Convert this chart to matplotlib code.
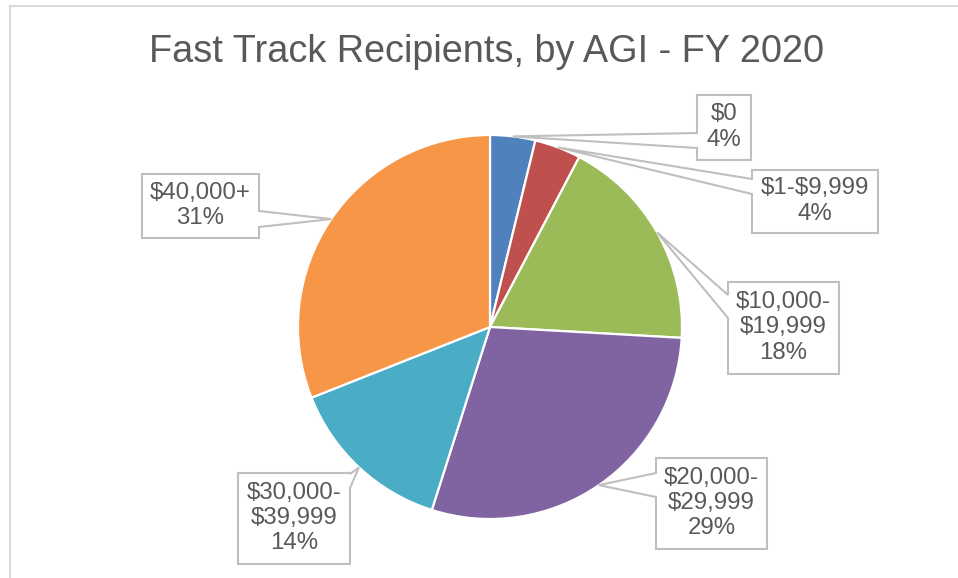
import numpy as np
import matplotlib
matplotlib.use("Agg")
import matplotlib.pyplot as plt
from matplotlib.patches import Polygon
from matplotlib.lines import Line2D

plt.rcParams['font.family'] = ['Liberation Sans', 'DejaVu Sans']

# Data
categories = ["$0", "$1-$9,999", "$10,000-\n$19,999", "$20,000-\n$29,999",
              "$30,000-\n$39,999", "$40,000+"]
shares = [3.8, 3.9, 18.2, 29.0, 14.1, 31.0]
pct_labels = ["4%", "4%", "18%", "29%", "14%", "31%"]
colors = ["#4F81BD", "#C0504D", "#9BBB59", "#8064A2", "#4BACC6", "#F79646"]

W, H = 958, 578
TXT = "#595959"
EDGE = "#BFBFBF"

fig = plt.figure(figsize=(W / 100, H / 100), dpi=100)
ax = fig.add_axes([0, 0, 1, 1])

# pie in pixel coordinates (y measured from the bottom)
cx, cy, r = 490, H - 327, 192
wedges, _ = ax.pie(shares, colors=colors, startangle=90, counterclock=False,
                   center=(cx, cy), radius=r,
                   wedgeprops=dict(edgecolor="white", linewidth=1.6))
ax.set_xlim(0, W)
ax.set_ylim(0, H)
ax.set_aspect("auto")
ax.axis("off")

# callout boxes: (x0, y0, x1, y1) in top-down pixels, side of pointer, pointer base
boxes = [
    ((697, 95, 751, 160), "left", (133, 148)),
    ((752, 170, 878, 233), "left", (179, 194)),
    ((728, 282, 839, 374), "left", (295, 318)),
    ((656, 458, 767, 549), "left", (473, 497)),
    ((238, 473, 350, 564), "right", (474, 488)),
    ((142, 174, 259, 238), "right", (211, 227)),
]

for w, cat, pct, (box, side, base) in zip(wedges, categories, pct_labels, boxes):
    mid = np.deg2rad((w.theta1 + w.theta2) / 2)
    tip = (cx + r * np.cos(mid), cy + r * np.sin(mid))
    x0, y0, x1, y1 = box
    Y0, Y1 = H - y0, H - y1
    b1, b2 = H - base[0], H - base[1]
    if side == "left":
        verts = [(x0, Y0), (x1, Y0), (x1, Y1), (x0, Y1), (x0, b2), tip, (x0, b1)]
    else:
        verts = [(x0, Y0), (x1, Y0), (x1, b1), tip, (x1, b2), (x1, Y1), (x0, Y1)]
    ax.add_patch(Polygon(verts, closed=True, facecolor="white", edgecolor=EDGE,
                         linewidth=1.5, zorder=3))
    ax.text((x0 + x1) / 2, (Y0 + Y1) / 2 + 0.5, cat + "\n" + pct, ha="center",
            va="center", fontsize=17.3, color=TXT, linespacing=1.2, zorder=4,
            parse_math=False)

# title
ax.text(487, H - 62, "Fast Track Recipients, by AGI - FY 2020", ha="center",
        va="baseline", fontsize=27.3, color=TXT)

# chart area border (top and left visible)
fig.add_artist(Line2D([9.5 / W, 1], [1 - 5.5 / H, 1 - 5.5 / H],
                      color="#D9D9D9", linewidth=1.5))
fig.add_artist(Line2D([9.5 / W, 9.5 / W], [0, 1 - 5.5 / H],
                      color="#D9D9D9", linewidth=1.5))

fig.savefig("out.png", dpi=100)
